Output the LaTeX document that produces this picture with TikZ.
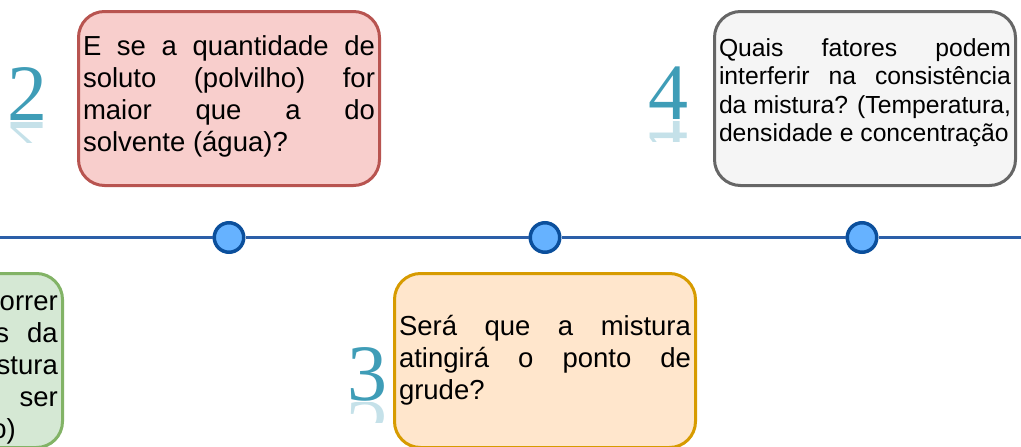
\documentclass[tikz,border=0pt]{standalone}
\usepackage{fontspec}
\setmainfont{Liberation Sans}
\newfontfamily\algarismo{Liberation Serif}
\definecolor{vermelhoFundo}{HTML}{F8CECC}
\definecolor{vermelhoBorda}{HTML}{B85450}
\definecolor{laranjaFundo}{HTML}{FFE6CC}
\definecolor{laranjaBorda}{HTML}{D79B00}
\definecolor{verdeFundo}{HTML}{D5E8D4}
\definecolor{verdeBorda}{HTML}{82B366}
\definecolor{cinzaFundo}{HTML}{F5F5F5}
\definecolor{cinzaBorda}{HTML}{666666}
\definecolor{azulLinha}{HTML}{2C5FA8}
\definecolor{azulMarco}{HTML}{66B2FF}
\definecolor{azulBorda}{HTML}{0B4F9C}
\definecolor{turquesa}{HTML}{3F9DB7}
\tikzset{caixa/.style = {draw, rounded corners=26pt, line width=3pt, minimum width=301pt, minimum height=174pt, text width=292pt, inner xsep=4.5pt, align=justify, font=\fontsize{27.5}{32}\selectfont, execute at begin node={\hyphenpenalty=10000 \tolerance=10000 }}}
\tikzset{marco/.style = {circle, draw=azulBorda, fill=azulMarco, line width=3.5pt, minimum size=29.5pt, inner sep=0pt}}
\tikzset{numero/.style = {anchor=base, inner sep=0pt, text=turquesa, font=\algarismo\fontsize{80}{80}\selectfont}}
\tikzset{fragmento/.style = {anchor=base east, inner sep=0pt, font=\fontsize{27.5}{32}\selectfont}}

\begin{document}
\begin{tikzpicture}[x=1pt, y=-1pt]
\useasboundingbox (0,0) rectangle (1021,447);

% linha do tempo
\coordinate (inicio) at (-5,237.5);
\coordinate (fim) at (1026,237.5);
\node[marco] (marcoDois) at (229,237.5) {};
\node[marco] (marcoTres) at (545,237.5) {};
\node[marco] (marcoQuatro) at (862,237.5) {};
\draw[azulLinha, line width=2.5pt] (inicio) -- (marcoDois) -- (marcoTres) -- (marcoQuatro) -- (fim);

% caixas
\node[caixa, draw=verdeBorda, fill=verdeFundo] (caixaUm) at (-88,360.5) {};
\node[caixa, draw=vermelhoBorda, fill=vermelhoFundo, text depth=106pt] (caixaDois) at (229,98.5) {E se a quantidade de\linebreak soluto (polvilho) for\linebreak maior que a do\linebreak solvente (água)?};
\node[caixa, draw=laranjaBorda, fill=laranjaFundo] (caixaTres) at (545,360.5) {Será que a mistura\linebreak atingirá o ponto de\linebreak grude?};
\node[caixa, draw=cinzaBorda, fill=cinzaFundo, text depth=102pt, font=\fontsize{24.7}{28.5}\selectfont] (caixaQuatro) at (865,98.5) {Quais fatores podem\linebreak interferir na consistência\linebreak da mistura? (Temperatura,\linebreak densidade e concentração};

% texto da caixa cortada
\node[fragmento] (linhaUm) at (58,310) {orrer};
\node[fragmento] (linhaDois) at (58,342) {s\hspace{18pt}da};
\node[fragmento] (linhaTres) at (58,374) {stura};
\node[fragmento] (linhaQuatro) at (58,406) {ser};
\node[fragmento] (linhaCinco) at (16,438) {o)};

% numeros
\node[numero] (numDois) at (27.5,120) {2};
\node[numero] (numTres) at (367.5,400) {3};
\node[numero] (numQuatro) at (668,119) {4};

% reflexos
\begin{scope}
\clip (0,122) rectangle (60,142);
\node[numero, opacity=.3] (refDois) at (27.5,122) {\scalebox{1}[-1]{2}};
\end{scope}
\begin{scope}
\clip (340,402) rectangle (390,422);
\node[numero, opacity=.3] (refTres) at (367.5,402) {\scalebox{1}[-1]{3}};
\end{scope}
\begin{scope}
\clip (640,121) rectangle (700,141);
\node[numero, opacity=.3] (refQuatro) at (668,121) {\scalebox{1}[-1]{4}};
\end{scope}

\end{tikzpicture}
\end{document}
